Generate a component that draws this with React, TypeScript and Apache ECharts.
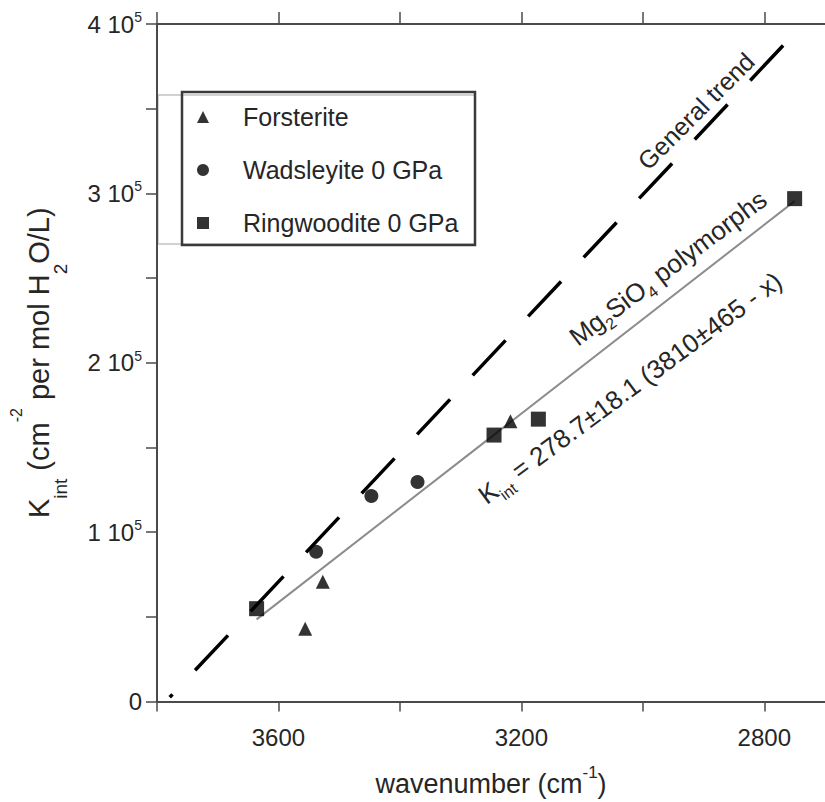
import React, { useEffect, useRef } from "react";
import * as echarts from "echarts";

// Integrated absorption coefficient vs. OH stretching wavenumber
const forsterite: [number, number][] = [
  [3556, 43000],
  [3527, 70700],
  [3218, 165500],
];
const wadsleyite: [number, number][] = [
  [3538, 88400],
  [3447, 121300],
  [3371, 129600],
];
const ringwoodite: [number, number][] = [
  [3636, 54800],
  [3245, 157300],
  [3172, 166700],
  [2750, 296900],
];
// end points of the dashed "general trend" line
const trendEnds: [number, number][] = [
  [3779, 2500],
  [2737, 399500],
];
// fit for the Mg2SiO4 polymorphs: K = 278.7 (3810 - x)
const fitSlope = 278.7;
const fitX0 = 3810;
const fitRange = [3636, 2750];

const xTicks = [3800, 3600, 3400, 3200, 3000, 2800];
const xLabels = [3600, 3200, 2800];
const yTicks = [0, 50000, 100000, 150000, 200000, 250000, 300000, 350000, 400000];
const yLabels = [0, 100000, 200000, 300000, 400000];
const legendNames = ["Forsterite", "Wadsleyite 0 GPa", "Ringwoodite 0 GPa"];

const FONT = "Liberation Sans, Arial, Helvetica, sans-serif";
const INK = "#262626";
const AXIS = "#4a4a4a";

export default function App() {
  const ref = useRef<HTMLDivElement>(null);

  useEffect(() => {
    if (!ref.current) return;
    const chart = echarts.init(ref.current, undefined, { renderer: "svg" });

    const fitLine = fitRange.map((x) => [x, fitSlope * (fitX0 - x)]);

    const xCommon = {
      type: "value",
      inverse: true,
      min: 2700,
      max: 3800,
      splitLine: { show: false },
      axisLine: { show: true, onZero: false, lineStyle: { color: AXIS, width: 2 } },
    };

    const option: any = {
      animation: false,
      backgroundColor: "#fff",
      textStyle: { fontFamily: FONT },
      grid: { left: 152, top: 24, right: -3.5, bottom: 99, containLabel: false },
      legend: {
        data: legendNames,
        orient: "vertical",
        left: 197,
        top: 102,
        padding: 0,
        itemWidth: 12,
        itemHeight: 12,
        itemGap: 23,
        selectedMode: false,
        textStyle: {
          fontFamily: FONT,
          fontSize: 25,
          color: INK,
          lineHeight: 30,
          padding: [0, 0, 0, 29],
        },
      },
      xAxis: [
        {
          ...xCommon,
          position: "bottom",
          axisTick: {
            show: true,
            inside: false,
            length: 10,
            customValues: xTicks,
            lineStyle: { color: AXIS, width: 1.5 },
          },
          axisLabel: {
            show: true,
            customValues: xLabels,
            formatter: (v: number) => String(v),
            margin: 24,
            fontSize: 24,
            fontFamily: FONT,
            color: INK,
          },
          name: "{n|wavenumber (cm}{s|-1}{n|)}",
          nameLocation: "middle",
          nameGap: 62,
          nameTextStyle: {
            fontFamily: FONT,
            color: INK,
            rich: {
              n: { fontSize: 27, lineHeight: 40, fontFamily: FONT, color: INK },
              s: { fontSize: 17, lineHeight: 10, verticalAlign: "top", fontFamily: FONT, color: INK },
            },
          },
        },
        {
          ...xCommon,
          position: "top",
          axisTick: {
            show: true,
            inside: false,
            length: 12,
            customValues: xTicks,
            lineStyle: { color: AXIS, width: 1.5 },
          },
          axisLabel: { show: false },
        },
      ],
      yAxis: {
        type: "value",
        min: 0,
        max: 400000,
        splitLine: { show: false },
        axisLine: { show: true, onZero: false, lineStyle: { color: AXIS, width: 2 } },
        axisTick: {
          show: true,
          inside: false,
          length: 11,
          customValues: yTicks,
          lineStyle: { color: AXIS, width: 1.5 },
        },
        axisLabel: {
          show: true,
          customValues: yLabels,
          margin: 15,
          color: INK,
          fontFamily: FONT,
          formatter: (v: number) => (v === 0 ? "{b|0}" : `{b|${v / 100000} 10}{s|5}`),
          rich: {
            b: { fontSize: 24, lineHeight: 28, fontFamily: FONT, color: INK },
            s: { fontSize: 14, lineHeight: 15, verticalAlign: "top", fontFamily: FONT, color: INK },
          },
        },
        name: "{n|K}{d|int}{n| (cm}{u|-2}{n| per mol H}{d|2}{n|O/L)}",
        nameLocation: "middle",
        nameRotate: 90,
        nameGap: 87,
        nameTextStyle: {
          fontFamily: FONT,
          color: INK,
          rich: {
            n: { fontSize: 29, lineHeight: 62, fontFamily: FONT, color: INK },
            d: { fontSize: 19, lineHeight: 20, verticalAlign: "bottom", fontFamily: FONT, color: INK },
            u: { fontSize: 16, lineHeight: 29, verticalAlign: "top", fontFamily: FONT, color: INK },
          },
        },
      },
      series: [
        {
          name: "General trend",
          type: "line",
          data: trendEnds,
          symbol: "none",
          silent: true,
          z: 1,
          lineStyle: { color: "#000", width: 3.5, type: [48, 33], dashOffset: 44 },
        },
        {
          name: "Mg2SiO4 fit",
          type: "line",
          data: fitLine,
          symbol: "none",
          silent: true,
          z: 1,
          lineStyle: { color: "#8c8c8c", width: 2 },
        },
        {
          name: legendNames[0],
          type: "scatter",
          data: forsterite,
          symbol: "triangle",
          symbolSize: 14,
          z: 3,
          itemStyle: { color: "#000" },
        },
        {
          name: legendNames[1],
          type: "scatter",
          data: wadsleyite,
          symbol: "circle",
          symbolSize: 14,
          z: 3,
          itemStyle: { color: "#000" },
        },
        {
          name: legendNames[2],
          type: "scatter",
          data: ringwoodite,
          symbol: "rect",
          symbolSize: 15,
          z: 3,
          itemStyle: { color: "#000" },
        },
      ],
      graphic: [
        {
          type: "rect",
          z: 0,
          silent: true,
          shape: { x: 158, y: 95, width: 317, height: 149 },
          style: { fill: "#fff", stroke: "#c4c4c4", lineWidth: 1.5 },
        },
        {
          type: "rect",
          z: 0,
          silent: true,
          shape: { x: 182, y: 92, width: 293, height: 153 },
          style: { fill: "transparent", stroke: "#3a3a3a", lineWidth: 2.5 },
        },
        {
          type: "text",
          x: 696,
          y: 111,
          rotation: Math.PI / 4,
          silent: true,
          style: {
            text: "General trend",
            fontSize: 25,
            fontFamily: FONT,
            fill: INK,
            align: "center",
            verticalAlign: "middle",
          },
        },
        {
          type: "text",
          x: 668,
          y: 268,
          rotation: (37 * Math.PI) / 180,
          silent: true,
          style: {
            text: "{n|Mg}{d|2}{n|SiO}{d|4}{n| polymorphs}",
            fontFamily: FONT,
            fill: INK,
            align: "center",
            verticalAlign: "middle",
            rich: {
              n: { fontSize: 26, lineHeight: 36, fontFamily: FONT, fill: INK },
              d: { fontSize: 16, lineHeight: 16, verticalAlign: "bottom", fontFamily: FONT, fill: INK },
            },
          },
        },
        {
          type: "text",
          x: 630,
          y: 388,
          rotation: (36.5 * Math.PI) / 180,
          silent: true,
          style: {
            text: "{n|K}{d|int}{n| = 278.7±18.1 (3810±465 - x)}",
            fontFamily: FONT,
            fill: INK,
            align: "center",
            verticalAlign: "middle",
            rich: {
              n: { fontSize: 26, lineHeight: 38, fontFamily: FONT, fill: INK },
              d: { fontSize: 16, lineHeight: 16, verticalAlign: "bottom", fontFamily: FONT, fill: INK },
            },
          },
        },
      ],
    };

    chart.setOption(option);
    return () => chart.dispose();
  }, []);

  return (
    <div
      ref={ref}
      style={{ position: "absolute", left: 0, top: 0, width: 825, height: 802, background: "#fff" }}
    />
  );
}
